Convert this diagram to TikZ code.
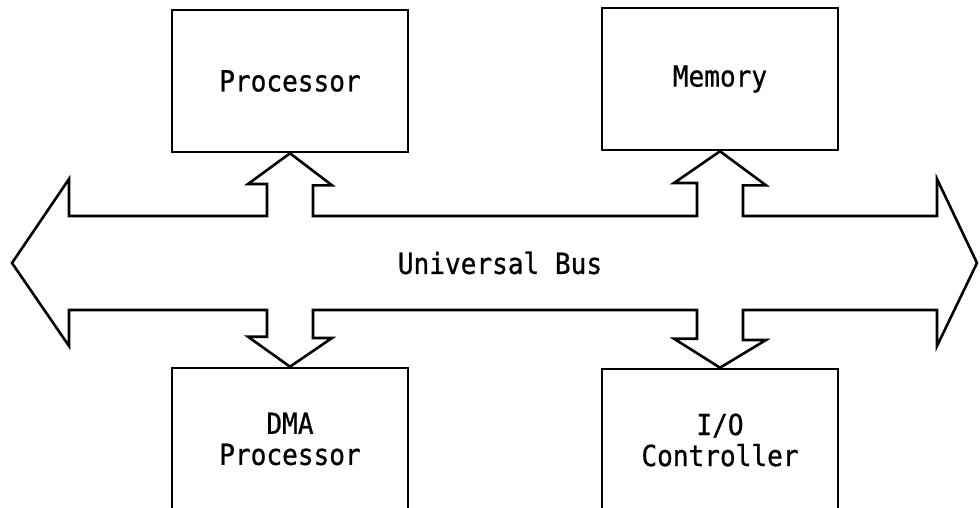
\documentclass[tikz,border=0pt]{standalone}
\usepackage{fontspec}
\setmonofont[FakeStretch=0.9, FakeBold=0.8]{DejaVu Sans Mono}
\usepackage{tikz}
\usetikzlibrary{positioning}

\begin{document}
\begin{tikzpicture}[x=1pt, y=-1pt, line width=2.6pt, line join=miter,
    every node/.style = {align=center, font=\ttfamily\fontsize{29}{31}\selectfont},
    unit/.style = {draw, inner sep=0pt, minimum width=236pt, minimum height=142pt}]
 \useasboundingbox (0,0) rectangle (980,508);
 \clip (0,0) rectangle (980,508);
 \node [unit] (proc) at (290,81) {Processor};
 \node [unit] (mem) at (720,79) {Memory};
 \node [unit] (dma) at (290,439) {DMA\\Processor};
 \node [unit] (io) at (720,440) {I/O\\Controller};
 \node (busname) at (500,263) {Universal Bus};
 \draw (12,263) -- (69,179) -- (69,216)
    -- (267,216) -- (267,184) -- (248,184) -- (proc.south) -- ++(42,32) -- ++(-19,0) -- (313,216)
    -- (697,216) -- (697,183) -- (674,183) -- (mem.south) -- ++(46,34) -- ++(-23,0) -- (743,216)
    -- (937,216) -- (937,179) -- (977,263) -- (937,346) -- (937,310)
    -- (743,310) -- (743,340) -- (766,340) -- (io.north) -- ++(-46,-29) -- ++(23,0) -- (697,310)
    -- (313,310) -- (313,338) -- (332,338) -- (dma.north) -- ++(-42,-30) -- ++(19,0) -- (267,310)
    -- (69,310) -- (69,346) -- cycle;
\end{tikzpicture}
\end{document}
